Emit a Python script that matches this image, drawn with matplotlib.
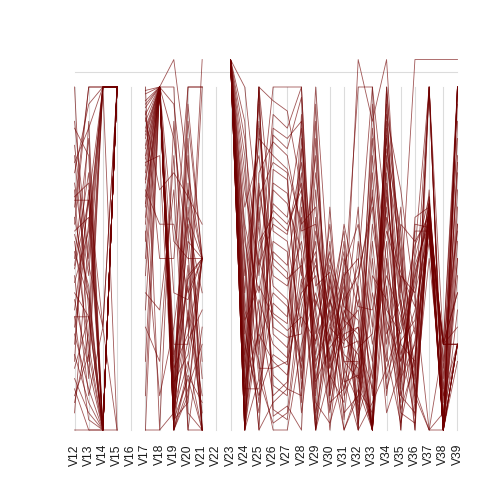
import numpy as np
import matplotlib.pyplot as plt

# variables V12..V39, values as % of each column's range (108 = point above the top, None = missing)
var_names = [f"V{i}" for i in range(12, 40)]

V12 = [100, 67, 33, 5, 88, 45, 72, 20, 55, 30, 12, 60, 80, 40, 25, 70, 50, 15, 90, 35,
       62, 8, 48, 75, 28, 58, 18, 83, 38, 65, 52, 22, 43, 68, 10, 78, 33, 57, 47, 0]
V13 = [20, 67, 33, 55, 80, 10, 45, 90, 25, 60, 0, 100, 35, 33, 70, 15, 85, 5, 50, 67,
       40, 28, 75, 95, 12, 62, 33, 48, 18, 100, 38, 8, 58, 72, 22, 88, 3, 42, 67, 0]
V14 = [100, 0, 0, 100, 0, 30, 100, 0, 0, 100, 0, 100, 0, 0, 30, 100, 0, 0, 100, 0,
       0, 100, 0, 100, 0, 0, 100, 30, 0, 100, 0, 0, 100, 0, 0, 100, 0, 0, 100, 0]
V15 = [100, 100, 100, 100, 100, 0, 100, 100, 100, 100, 100, 100, 0, 100, 100, 100, 100, 100, 100, 100,
       100, 100, 100, 100, 100, 100, 100, 100, 100, 100, 100, 100, 0, 100, 100, 100, 100, 100, 100, 100]
V16 = [None] * 40
V17 = [95, 80, 70, 88, 60, 100, 75, 92, 40, 85, 65, 98, 20, 78, 90, 55, 83, 30, 72, 96,
       0, 68, 87, 50, 93, 77, 10, 82, 62, 91, 45, 73, 99, 35, 86, 58, 0, 79, 94, 66]
V18 = [100, 100, 60, 100, 100, 0, 100, 100, 35, 100, 100, 100, 100, 80, 100, 100, 100, 20, 100, 100,
       0, 100, 100, 100, 50, 100, 100, 100, 100, 70, 100, 100, 100, 100, 100, 10, 100, 100, 100, 100]
V19 = [108, 10, 60, 5, 20, 90, 0, 15, 70, 5, 0, 25, 8, 3, 55, 0, 12, 80, 2, 18,
       5, 40, 0, 6, 50, 14, 95, 3, 22, 75, 0, 9, 4, 85, 6, 30, 100, 11, 0, 2]
V20 = [75, 100, 40, 20, 55, 30, 10, 85, 0, 45, 65, 25, 90, 15, 50, 35, 70, 5, 60, 28,
       80, 38, 12, 48, 100, 22, 58, 8, 42, 68, 18, 33, 95, 52, 26, 62, 0, 44, 16, 72]
V21 = [50, 100, 50, 0, 50, 108, 50, 0, 30, 50, 20, 100, 50, 0, 50, 10, 50, 0, 40, 50,
       0, 50, 25, 0, 100, 50, 15, 50, 0, 60, 50, 5, 50, 0, 35, 50, 0, 50, 8, 0]
V22 = [None] * 40
V23 = [108] * 40
V24 = [100, 20, 5, 40, 0, 60, 15, 30, 0, 75, 10, 45, 25, 0, 55, 8, 35, 85, 3, 50,
       18, 0, 65, 12, 28, 0, 90, 22, 6, 38, 70, 0, 14, 48, 2, 32, 80, 10, 0, 58]
V25 = [60, 100, 30, 85, 15, 40, 100, 5, 70, 25, 50, 90, 10, 65, 35, 100, 20, 45, 75, 0,
       55, 30, 80, 12, 95, 38, 18, 60, 100, 8, 48, 72, 28, 0, 88, 42, 22, 68, 52, 15]
V26 = [100, 96, 88, 80, 72, 66, 58, 52, 45, 40, 34, 28, 22, 16, 10, 6, 0, 92, 84, 76,
       62, 55, 48, 37, 30, 25, 18, 13, 4, 70, 60, 42, 20, 8, 50, 33, 86, 78, 64, 2]
V27 = [100, 93, 85, 76, 69, 62, 55, 48, 42, 36, 31, 24, 19, 12, 14, 3, 0, 88, 80, 73,
       58, 52, 44, 33, 27, 21, 20, 10, 7, 66, 57, 38, 16, 12, 46, 29, 82, 75, 60, 5]
V28 = [100, 70, 90, 60, 45, 88, 30, 75, 55, 20, 82, 40, 65, 10, 50, 35, 25, 100, 58, 15,
       72, 5, 48, 68, 28, 92, 38, 62, 0, 52, 78, 18, 44, 85, 8, 33, 97, 12, 70, 42]
V29 = [20, 35, 0, 65, 80, 15, 50, 10, 30, 100, 5, 45, 25, 70, 0, 55, 40, 12, 60, 90,
       18, 38, 0, 28, 75, 8, 48, 22, 85, 3, 33, 58, 14, 42, 95, 26, 0, 62, 36, 52]
V30 = [30, 15, 45, 25, 10, 35, 20, 55, 5, 40, 28, 18, 60, 12, 38, 0, 22, 48, 32, 8,
       42, 26, 16, 50, 36, 2, 30, 44, 20, 65, 14, 34, 24, 46, 10, 38, 28, 18, 52, 6]
V31 = [25, 40, 10, 55, 30, 20, 45, 15, 35, 5, 60, 28, 18, 48, 22, 38, 0, 32, 52, 12,
       27, 42, 8, 36, 58, 16, 46, 24, 34, 14, 50, 0, 30, 20, 40, 26, 12, 44, 3, 33]
V32 = [108, 100, 20, 5, 35, 15, 50, 0, 25, 10, 40, 30, 8, 60, 18, 45, 12, 28, 0, 38,
       22, 6, 55, 32, 14, 42, 2, 26, 48, 16, 36, 10, 65, 20, 0, 30, 24, 12, 44, 4]
V33 = [90, 100, 0, 40, 0, 70, 10, 85, 0, 55, 20, 0, 95, 30, 0, 65, 5, 0, 80, 15,
       0, 50, 25, 0, 75, 0, 45, 12, 100, 0, 35, 60, 0, 88, 8, 0, 28, 0, 68, 18]
V34 = [108, 60, 80, 20, 95, 10, 70, 40, 90, 15, 65, 100, 30, 85, 50, 25, 75, 100, 35, 55,
       88, 5, 45, 92, 22, 68, 38, 78, 12, 98, 58, 32, 82, 48, 18, 72, 62, 42, 28, 86]
V35 = [40, 20, 35, 60, 10, 45, 25, 0, 55, 30, 15, 50, 8, 38, 22, 65, 12, 42, 28, 5,
       48, 18, 33, 70, 2, 36, 14, 52, 26, 0, 44, 20, 58, 10, 32, 24, 46, 6, 38, 16]
V36 = [108, 30, 15, 55, 5, 40, 20, 62, 10, 45, 25, 0, 50, 12, 35, 8, 58, 18, 42, 2,
       28, 48, 14, 38, 22, 0, 52, 10, 32, 60, 6, 44, 16, 26, 54, 4, 36, 20, 12, 46]
V37 = [108, 64, 100, 62, 66, 58, 60, 65, 0, 63, 55, 100, 68, 61, 57, 64, 58, 100, 66, 62,
       70, 60, 67, 0, 63, 65, 100, 50, 64, 59, 61, 66, 100, 59, 63, 68, 100, 64, 0, 62]
V38 = [108, 0, 25, 0, 12, 0, 25, 0, 5, 0, 25, 0, 15, 0, 0, 25, 0, 8, 0, 25,
       0, 0, 20, 0, 25, 0, 0, 10, 0, 25, 0, 18, 0, 0, 25, 0, 3, 0, 25, 0]
V39 = [108, 100, 25, 50, 75, 25, 100, 60, 25, 90, 40, 25, 100, 55, 80, 25, 35, 100, 65, 25,
       45, 100, 85, 25, 30, 70, 100, 25, 50, 95, 25, 60, 100, 20, 40, 25, 78, 100, 58, 25]

columns = [V12, V13, V14, V15, V16, V17, V18, V19, V20, V21, V22, V23, V24, V25,
           V26, V27, V28, V29, V30, V31, V32, V33, V34, V35, V36, V37, V38, V39]
ref_level = 104.4  # the single horizontal reference line

data = np.array([[np.nan if v is None else v / 100 for v in col] for col in columns])
x = np.arange(len(var_names))

fig = plt.figure(figsize=(7, 7), dpi=72)
ax = fig.add_axes([66 / 504, (504 - 442) / 504, 400 / 504, (442 - 47) / 504])

# axis lines for every variable
for xi in x:
    ax.plot([xi, xi], [0, 1], color="#DCDCDC", lw=1.1, zorder=1)
ax.plot([x[0], x[-1]], [ref_level / 100, ref_level / 100], color="#DCDCDC", lw=1.1, zorder=1)

for j in range(data.shape[1]):
    ax.plot(x, data[:, j], color="#700000", alpha=0.65, lw=0.85, zorder=2)

ax.set_xlim(-0.6, len(x) - 0.4)
ax.set_ylim(-12 / 343, 1 + 40 / 343)
ax.set_xticks(x)
ax.set_xticklabels(var_names, rotation=90, fontsize=12, family="Liberation Sans", color="#1a1a1a")
ax.tick_params(axis="x", length=0, pad=2)
ax.set_yticks([])
for s in ax.spines.values():
    s.set_visible(False)

plt.savefig("out.png", dpi=72)
